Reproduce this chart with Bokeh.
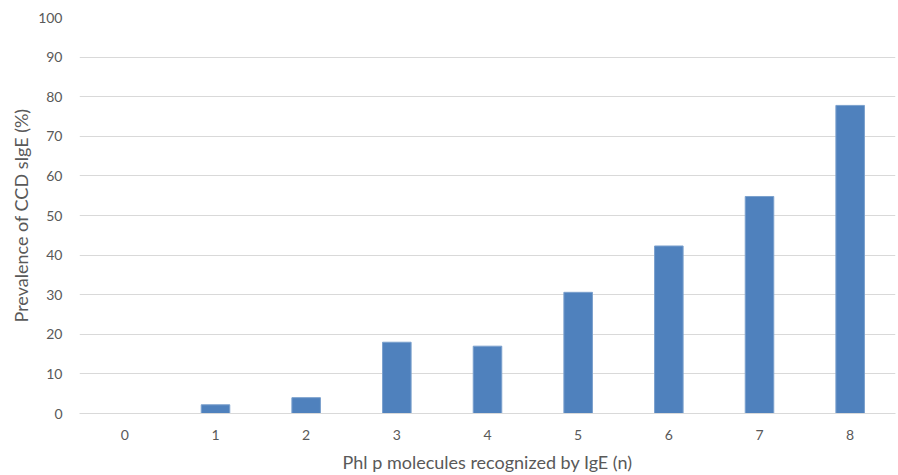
from bokeh.plotting import figure
from bokeh.models import FactorRange, Range1d, SingleIntervalTicker
from bokeh.embed import file_html
from bokeh.resources import INLINE

categories = ["0", "1", "2", "3", "4", "5", "6", "7", "8"]
prevalence = [0.0, 2.2, 4.0, 18.0, 17.0, 30.6, 42.3, 54.8, 77.8]

p = figure(width=898, height=475, output_backend="svg", toolbar_location=None,
           x_range=FactorRange(factors=categories), y_range=Range1d(0, 100),
           min_border_left=79, min_border_right=3, min_border_top=17, min_border_bottom=62)
p.outline_line_color = None
p.background_fill_color = "white"
p.border_fill_color = "white"

p.vbar(x=categories, top=prevalence, width=0.315, fill_color="#4F81BD",
       line_color="#7BA0CD", line_width=1)

font = "Lato"
text_col = "#595959"

p.yaxis.ticker = SingleIntervalTicker(interval=10)
p.yaxis.axis_line_color = None
p.yaxis.major_tick_line_color = None
p.yaxis.minor_tick_line_color = None
p.yaxis.major_label_standoff = 11
p.yaxis.axis_label = "Prevalence of CCD sIgE (%)"
p.yaxis.axis_label_standoff = 3

p.xaxis.axis_line_color = "#D9D9D9"
p.xaxis.axis_line_width = 1
p.xaxis.major_tick_line_color = None
p.xaxis.minor_tick_line_color = None
p.xaxis.major_label_standoff = 10
p.xaxis.axis_label = "Phl p molecules recognized by IgE (n)"
p.xaxis.axis_label_standoff = 8

for ax in (p.xaxis, p.yaxis):
    ax.major_label_text_font = font
    ax.major_label_text_font_size = "14px"
    ax.major_label_text_color = text_col
    ax.axis_label_text_font = font
    ax.axis_label_text_font_size = "18px"
    ax.axis_label_text_font_style = "normal"
    ax.axis_label_text_color = text_col

p.xgrid.grid_line_color = None
p.ygrid.grid_line_color = "#D9D9D9"
p.ygrid.grid_line_width = 1

open("out.html", "w").write(file_html(p, INLINE))
